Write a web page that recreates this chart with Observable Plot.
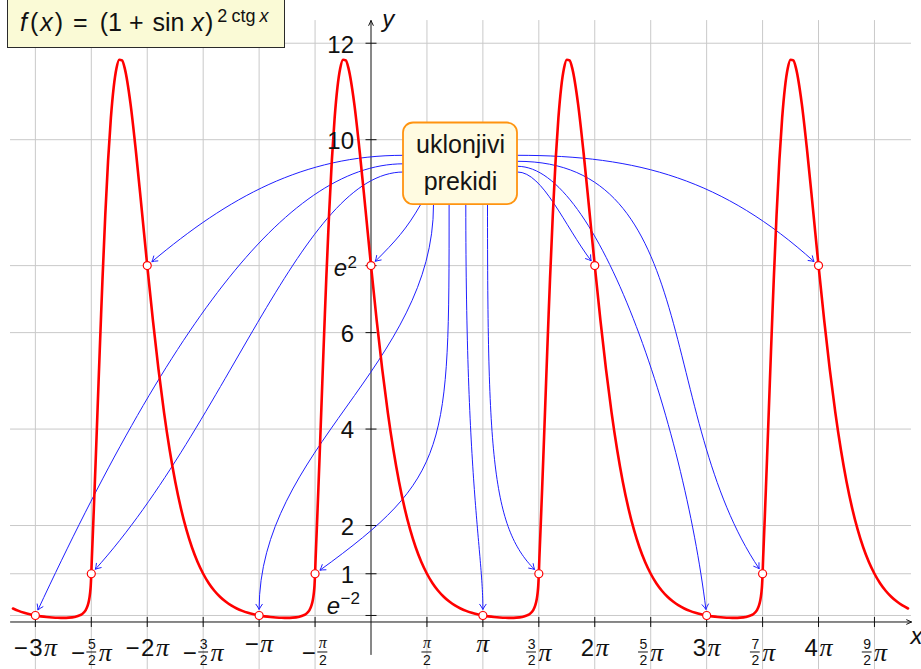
<!DOCTYPE html>
<html>
<head>
<meta charset="utf-8">
<script src="https://cdn.jsdelivr.net/npm/d3@7"></script>
<script src="https://cdn.jsdelivr.net/npm/@observablehq/plot@0.6"></script>
<style>
  body { margin: 0; background: #fff; }
  #chart { position: relative; width: 921px; height: 669px; overflow: hidden; }
  #title {
    position: absolute; left: 7px; top: -3px; width: 278px; height: 51px;
    box-sizing: border-box; border: 1px solid #2a2a2a; background: #fafad6;
    padding: 11.8px 0 0 12px; font: 25px/25px "Liberation Sans", sans-serif; color: #111;
    white-space: nowrap;
  }
  #title i { font-style: italic; }
  #title .f { margin-right: 3px; }
  #title .x1 { margin: 0 2px; }
  #title .rel { margin: 0 12px 0 10px; }
  #title .bin { margin: 0 9px 0 7px; }
  #title .x2 { margin: 0 1px 0 7px; }
  #title sup { font-size: 18px; vertical-align: baseline; position: relative; top: -9px; line-height: 0; margin-left: 4px; }
  #title sup .gap { margin-right: 4px; }
</style>
</head>
<body>
<div id="chart">
  <div id="title"><i class="f">f</i>(<i class="x1">x</i>)<span class="rel">=</span>(1<span class="bin">+</span>sin<i class="x2">x</i>)<sup><span class="gap">2</span><span class="gap">ctg</span><i>x</i></sup></div>
</div>
<script>
// ---------------------------------------------------------------
// f(x) = (1 + sin x)^(2 ctg x), x measured in multiples of π.
// One period (from -π/2 to 3π/2); the graph repeats every 2π.
// ---------------------------------------------------------------
const periodX = [
  -0.5, -0.495, -0.49, -0.485, -0.48, -0.47, -0.46, -0.45, -0.4375, -0.425, -0.4125, -0.4,
  -0.375, -0.35, -0.325, -0.3, -0.275, -0.25, -0.225, -0.2, -0.15, -0.1, -0.05,
  0, 0.05, 0.1, 0.15, 0.2, 0.25, 0.3, 0.35, 0.4, 0.45, 0.5,
  0.55, 0.6, 0.65, 0.7, 0.75, 0.8, 0.85, 0.9, 0.95, 1,
  1.05, 1.1, 1.15, 1.2, 1.25, 1.3, 1.35, 1.4, 1.425, 1.45, 1.46, 1.47, 1.48, 1.485, 1.49, 1.495
];
const periodY = [
  1, 1.327, 1.614, 1.9, 2.189, 2.785, 3.399, 4.026, 4.818, 5.603, 6.367, 7.103,
  8.445, 9.57, 10.453, 11.086, 11.481, 11.658, 11.643, 11.469, 10.754, 9.729, 8.57,
  7.389, 6.267, 5.247, 4.346, 3.57, 2.914, 2.366, 1.914, 1.544, 1.243, 1,
  0.804, 0.648, 0.523, 0.423, 0.343, 0.28, 0.23, 0.191, 0.16, 0.135,
  0.117, 0.103, 0.093, 0.087, 0.086, 0.09, 0.104, 0.141, 0.178, 0.248, 0.294, 0.359, 0.457, 0.526, 0.62, 0.754
];
const periodShifts = [-4, -2, 0, 2, 4];
const curveRange = [-3.2, 4.8];

// removable discontinuities (uklonjivi prekidi) and their limit values
const gapX = [-3, -2.5, -2, -1, -0.5, 0, 1, 1.5, 2, 3, 3.5, 4];
const gapY = [0.135, 1, 7.389, 0.135, 1, 7.389, 0.135, 1, 7.389, 0.135, 1, 7.389];

// axes
const xTicks = [-3, -2.5, -2, -1.5, -1, -0.5, 0.5, 1, 1.5, 2, 2.5, 3, 3.5, 4, 4.5];
const xTickLabels = ["−3π", "−5/2π", "−2π", "−3/2π", "−π", "−π/2", "π/2", "π", "3/2π", "2π", "5/2π", "3π", "7/2π", "4π", "9/2π"];
const yTicks = [0.135, 1, 2, 4, 6, 7.389, 10, 12];
const yTickLabels = ["e^-2", "1", "2", "4", "6", "e^2", "10", "12"];

const noteText = "uklonjivi\nprekidi";
const notePos = {x: 0.8, y: 9.5};

// ---------------------------------------------------------------
const W = 921, H = 669;
const X_DOMAIN = [-3.3116, 4.9204];
const Y_DOMAIN = [-0.985, 12.886];
const AXIS_X = [-3.222, 4.831];
const AXIS_Y = [-0.674, 12.47];
const kx = W / (X_DOMAIN[1] - X_DOMAIN[0]);   // px per π
const ky = H / (Y_DOMAIN[1] - Y_DOMAIN[0]);   // px per unit

const curvePoints = periodShifts
  .flatMap(s => periodX.map((u, i) => ({x: u + s, y: periodY[i]})))
  .filter(d => d.x >= curveRange[0] - 1e-9 && d.x <= curveRange[1] + 1e-9);

const gaps = gapX.map((x, i) => ({x, y: gapY[i]}));
const gapAt = x => gaps.find(g => g.x === x);

// arrows from the note box to each removable discontinuity:
// start offset on the box border (px), leaving / arriving angles (deg), control lengths (px)
const arrowStyle = [
  {to: -2,   from: [-57, -8.5], out: 180, inn: 40,  lo: 100, li: 100},
  {to: -3,   from: [-57, 0],    out: 180, inn: 65,  lo: 120, li: 300},
  {to: -2.5, from: [-57, 8.2],  out: 180, inn: 48,  lo: 100, li: 200},
  {to: 0,    from: [-39.7, 40.5], out: -120, inn: 45, lo: 29, li: 29},
  {to: -1,   from: [-27, 40.8], out: -90, inn: 90,  lo: 160, li: 160},
  {to: -0.5, from: [-11.4, 40.8], out: -90, inn: 36, lo: 246, li: 160},
  {to: 1,    from: [5.3, 40.8], out: -90, inn: 90,  lo: 280, li: 60},
  {to: 1.5,  from: [27, 40.8],  out: -90, inn: 135, lo: 250, li: 60},
  {to: 4,    from: [57, -8.5],  out: 0,   inn: 138, lo: 122, li: 122},
  {to: 3.5,  from: [57, -2.5],  out: 0,   inn: 124, lo: 185, li: 185},
  {to: 3,    from: [57, 2.5],   out: 0,   inn: 97,  lo: 80,  li: 187},
  {to: 2,    from: [57, 8.2],   out: 0,   inn: 127, lo: 25,  li: 44}
];

// cubic connector with an open arrow tip, in the spirit of TikZ "to[out=…, in=…]"
function connector({from: [ox, oy], out, inn, lo, li}, shorten = 6, headL = 5.5, headW = 3.4) {
  const rad = Math.PI / 180;
  return ctx => {
    let pts = [];
    return {
      areaStart() {}, areaEnd() {},
      lineStart() { pts = []; },
      point(x, y) { pts.push([x, y]); },
      lineEnd() {
        const [x0, y0] = [pts[0][0] + ox, pts[0][1] + oy];
        const [ex, ey] = pts[pts.length - 1];
        const ix = Math.cos(inn * rad), iy = -Math.sin(inn * rad);
        const x3 = ex + shorten * ix, y3 = ey + shorten * iy;
        ctx.moveTo(x0, y0);
        ctx.bezierCurveTo(
          x0 + lo * Math.cos(out * rad), y0 - lo * Math.sin(out * rad),
          x3 + li * ix, y3 + li * iy,
          x3, y3
        );
        const ux = -ix, uy = -iy, nx = -uy, ny = ux;
        const bx = x3 - headL * ux, by = y3 - headL * uy;
        ctx.moveTo(bx + headW * nx, by + headW * ny);
        ctx.quadraticCurveTo(x3 - 0.4 * headL * ux + 0.3 * headW * nx, y3 - 0.4 * headL * uy + 0.3 * headW * ny, x3, y3);
        ctx.quadraticCurveTo(x3 - 0.4 * headL * ux - 0.3 * headW * nx, y3 - 0.4 * headL * uy - 0.3 * headW * ny, bx - headW * nx, by - headW * ny);
      }
    };
  };
}

// short strokes used as tick marks
const vTick = {draw(ctx, size) { const r = Math.sqrt(size / Math.PI); ctx.moveTo(0, -r); ctx.lineTo(0, r); }};
const hTick = {draw(ctx, size) { const r = Math.sqrt(size / Math.PI); ctx.moveTo(-r, 0); ctx.lineTo(r, 0); }};

// ---------------------------------------------------------------
// tick label typesetting: numbers, stacked fractions, π and exponents
const FONTS = {
  num:    {family: "Liberation Sans", size: 24, style: "normal"},
  pi:     {family: "Liberation Serif", size: 26, style: "italic"},
  frac:   {family: "Liberation Sans", size: 14, style: "normal"},
  fracPi: {family: "Liberation Serif", size: 16, style: "italic"},
  ital:   {family: "Liberation Sans", size: 24, style: "italic"},
  sup:    {family: "Liberation Sans", size: 17, style: "normal"}
};
const ctx2d = document.createElement("canvas").getContext("2d");
function textWidth(text, f) {
  ctx2d.font = `${f.style} ${f.size}px "${f.family}"`;
  return ctx2d.measureText(text).width;
}

const pieces = [];
const fracBars = [];

function layoutXLabel(label, t) {
  const parts = [];
  let s = label;
  if (s.startsWith("−")) { parts.push({font: "num", text: "−"}); s = s.slice(1); }
  const hasFrac = s.includes("/");
  if (hasFrac) {
    const [top, rest] = s.split("/");
    parts.push({frac: true, top, den: rest.replace("π", "")});
    if (rest.endsWith("π")) parts.push({font: "pi", text: "π"});
  } else {
    const n = s.replace("π", "");
    if (n) parts.push({font: "num", text: n});
    parts.push({font: "pi", text: "π"});
  }
  for (const p of parts) {
    if (p.frac) {
      p.topFont = p.top === "π" ? "fracPi" : "frac";
      p.w = Math.max(textWidth(p.top, FONTS[p.topFont]), textWidth(p.den, FONTS.frac)) + 3;
    } else {
      p.w = textWidth(p.text, FONTS[p.font]);
    }
  }
  const gap = 1.5;
  const total = d3.sum(parts, p => p.w) + gap * (parts.length - 1);
  const base = hasFrac ? 39.5 : /\d/.test(label) ? 34.5 : 30;
  let cursor = -total / 2;
  for (const p of parts) {
    if (p.frac) {
      const c = cursor + p.w / 2;
      const topBase = p.topFont === "fracPi" ? 26.3 : 27;
      pieces.push({font: p.topFont, text: p.top, x: t + (c - textWidth(p.top, FONTS[p.topFont]) / 2) / kx, y: -topBase / ky});
      pieces.push({font: "frac", text: p.den, x: t + (c - textWidth(p.den, FONTS.frac) / 2) / kx, y: -43.5 / ky});
      fracBars.push({x1: t + (cursor + 0.5) / kx, x2: t + (cursor + p.w - 0.5) / kx, y: -30 / ky});
    } else {
      pieces.push({font: p.font, text: p.text, x: t + cursor / kx, y: -base / ky});
    }
    cursor += p.w + gap;
  }
}

function layoutYLabel(label, v) {
  if (label.startsWith("e^")) {
    const exp = label.slice(2).replace("-", "−");
    const nearAxis = exp.startsWith("−");      // e^-2 is set above its grid line
    const right = nearAxis ? -11 : -14;
    const ws = textWidth(exp, FONTS.sup), we = textWidth("e", FONTS.ital);
    const eBase = nearAxis ? -1 : 10, sBase = nearAxis ? -11 : 2.5;
    pieces.push({font: "sup", text: exp, x: (right - ws) / kx, y: v - sBase / ky});
    pieces.push({font: "ital", text: "e", x: (right - ws - 0.5 - we) / kx, y: v - eBase / ky});
  } else {
    const w = textWidth(label, FONTS.num);
    pieces.push({font: "num", text: label, x: (-17 - w) / kx, y: v - 9.3 / ky});
  }
}

xTicks.forEach((t, i) => layoutXLabel(xTickLabels[i], t));
yTicks.forEach((v, i) => layoutYLabel(yTickLabels[i], v));

const grid = "#c9c9c9";

const chart = Plot.plot({
  width: W, height: H,
  margin: 0,
  x: {domain: X_DOMAIN, axis: null},
  y: {domain: Y_DOMAIN, axis: null},
  style: {background: "white"},
  marks: [
    // grid
    Plot.ruleY(yTicks, {y: d => d, x1: () => AXIS_X[0], x2: () => AXIS_X[1], stroke: grid, strokeWidth: 1}),
    Plot.ruleX(xTicks, {x: d => d, y1: () => Y_DOMAIN[0], y2: () => AXIS_Y[1], stroke: grid, strokeWidth: 1}),
    // axis lines with arrow heads
    Plot.arrow([{x1: AXIS_X[0], y1: 0, x2: AXIS_X[1], y2: 0}, {x1: 0, y1: AXIS_Y[0], x2: 0, y2: AXIS_Y[1]}],
      {x1: "x1", y1: "y1", x2: "x2", y2: "y2", stroke: "#111", strokeWidth: 1, headLength: 8, headAngle: 50}),
    Plot.dot(xTicks, {x: d => d, y: () => 0, symbol: vTick, r: 5, fill: "none", stroke: "#111", strokeWidth: 1}),
    Plot.dot(yTicks, {x: () => 0, y: d => d, symbol: hTick, r: 5.5, fill: "none", stroke: "#111", strokeWidth: 1}),
    // arrows from the note to the discontinuities
    ...arrowStyle.map(a => Plot.link([gapAt(a.to)], {
      x1: () => notePos.x, y1: () => notePos.y, x2: "x", y2: "y",
      curve: connector(a), stroke: "#1f1fff", strokeWidth: 1, fill: "none"
    })),
    // the function
    Plot.line(curvePoints, {x: "x", y: "y", curve: "monotone-x", stroke: "#ff0000", strokeWidth: 2.6, strokeLinejoin: "round"}),
    // removable discontinuities
    Plot.dot(gaps, {x: "x", y: "y", r: 4, fill: "white", stroke: "#ff0000", strokeWidth: 1.2}),
    // note box
    Plot.rect([notePos], {x1: "x", x2: "x", y1: "y", y2: "y",
      insetLeft: -57, insetRight: -57, insetTop: -40.8, insetBottom: -40.8, rx: 10,
      fill: "#fffbe1", stroke: "#ff9410", strokeWidth: 1.8}),
    Plot.text([notePos], {x: "x", y: "y", text: () => noteText, fontSize: 25, lineHeight: 1.49, dy: -4,
      fontFamily: "Liberation Sans", fill: "#141414"}),
    // tick labels
    Plot.ruleY(fracBars, {y: "y", x1: "x1", x2: "x2", stroke: "#111", strokeWidth: 1}),
    ...Object.entries(FONTS).map(([key, f]) => Plot.text(pieces.filter(p => p.font === key), {
      x: "x", y: "y", text: "text", textAnchor: "start", lineAnchor: "bottom",
      fontFamily: f.family, fontSize: f.size, fontStyle: f.style, fill: "#111"
    })),
    // axis names
    Plot.text(["x"], {x: () => AXIS_X[1], y: () => 0, text: d => d, dx: -1, dy: 21.8, textAnchor: "start", lineAnchor: "bottom",
      fontFamily: "Liberation Sans", fontStyle: "italic", fontSize: 24, fill: "#111"}),
    Plot.text(["y"], {x: () => 0, y: () => AXIS_Y[1], text: d => d, dx: 11.3, dy: 6.7, textAnchor: "start", lineAnchor: "bottom",
      fontFamily: "Liberation Sans", fontStyle: "italic", fontSize: 24, fill: "#111"})
  ]
});

document.getElementById("chart").insertBefore(chart, document.getElementById("title"));
</script>
</body>
</html>
